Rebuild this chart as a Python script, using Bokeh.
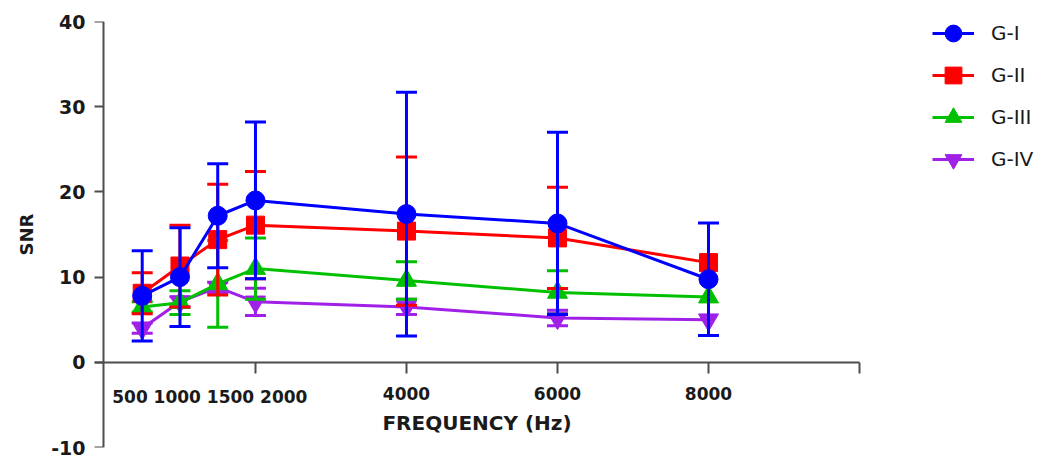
from bokeh.plotting import figure
from bokeh.models import (LinearAxis, FixedTicker, Range1d, Legend, LegendItem, Label)
from bokeh.embed import file_html
from bokeh.resources import INLINE

# ---- data ----
freq = [500, 1000, 1500, 2000, 4000, 6000, 8000]
tick_labels = ["500", "1000", "1500", "2000", "4000", "6000", "8000"]
y_ticks = [-10, 0, 10, 20, 30, 40]
y_tick_labels = ["-10", "0", "10", "20", "30", "40"]

groups = ["G-I", "G-II", "G-III", "G-IV"]
g1_mean = [7.8, 10.0, 17.2, 19.0, 17.4, 16.3, 9.75]
g1_sd = [5.3, 5.8, 6.1, 9.2, 14.3, 10.7, 6.6]
g2_mean = [8.1, 11.3, 14.4, 16.1, 15.4, 14.6, 11.7]
g2_sd = [2.4, 4.8, 6.5, 6.3, 8.7, 5.95, 0.0]
g3_mean = [6.5, 7.0, 9.2, 11.0, 9.6, 8.2, 7.65]
g3_sd = [0.6, 1.4, 5.1, 3.6, 2.2, 2.55, 0.0]
g4_mean = [4.0, 7.1, 8.8, 7.1, 6.5, 5.2, 5.0]
g4_sd = [0.6, 0.6, 0.6, 1.6, 0.9, 0.9, 0.0]

means = [g1_mean, g2_mean, g3_mean, g4_mean]
sds = [g1_sd, g2_sd, g3_sd, g4_sd]
colors = ["#0000FF", "#FF0000", "#00C000", "#A020E8"]
markers = ["circle", "square", "triangle", "inverted_triangle"]
msizes = [19, 18, 20, 20]

FONT = "DejaVu Sans"
TXT = "#1a1a1a"
AX = "#4d4d4d"
X0, X1 = -132, 12609
Y_AXIS_AT = -13

p = figure(width=1062, height=459, output_backend="svg", toolbar_location=None,
           x_range=Range1d(X0, X1), y_range=Range1d(-10, 40),
           x_axis_type=None, y_axis_type=None,
           min_border_left=94, min_border_right=6, min_border_top=21, min_border_bottom=12)
p.outline_line_color = None
p.background_fill_color = "white"
p.border_fill_color = "white"

# y axis, part 1: tick labels and title (in the left panel)
ylab = LinearAxis(ticker=FixedTicker(ticks=y_ticks), axis_label="SNR")
ylab.major_label_overrides = {t: lab for t, lab in zip(y_ticks, y_tick_labels)}
ylab.axis_line_color = None
ylab.major_tick_line_color = None
ylab.major_tick_out = 0
ylab.major_tick_in = 0
ylab.minor_tick_line_color = None
ylab.major_label_standoff = 9
ylab.major_label_text_font = FONT
ylab.major_label_text_font_style = "bold"
ylab.major_label_text_font_size = "19px"
ylab.major_label_text_color = TXT
ylab.axis_label_text_font = FONT
ylab.axis_label_text_font_style = "bold"
ylab.axis_label_text_font_size = "18px"
ylab.axis_label_text_color = TXT
ylab.axis_label_standoff = 11
p.add_layout(ylab, "left")

# y axis, part 2: line and ticks, just right of where the x axis starts
yline = LinearAxis(ticker=FixedTicker(ticks=y_ticks), fixed_location=Y_AXIS_AT)
yline.axis_line_color = AX
yline.axis_line_width = 2
yline.major_tick_line_color = AX
yline.major_tick_line_width = 2
yline.major_tick_out = 13
yline.major_tick_in = 0
yline.minor_tick_line_color = None
yline.major_label_text_alpha = 0
p.add_layout(yline, "left")

# x axis fixed at y = 0
x_major = [2000, 4000, 6000, 8000, 10000]
overrides = {2000: "", 10000: ""}
for f, lab in zip(freq[4:], tick_labels[4:]):
    overrides[f] = lab
xax = LinearAxis(ticker=FixedTicker(ticks=x_major), fixed_location=0,
                 bounds=(X0, 10000), axis_label="FREQUENCY (Hz)")
xax.major_label_overrides = overrides
xax.axis_line_color = AX
xax.axis_line_width = 2
xax.major_tick_line_color = AX
xax.major_tick_line_width = 2
xax.major_tick_out = 11
xax.major_tick_in = 0
xax.minor_tick_line_color = None
xax.major_label_standoff = 14
xax.major_label_text_font = FONT
xax.major_label_text_font_style = "bold"
xax.major_label_text_font_size = "17px"
xax.major_label_text_color = TXT
xax.axis_label_text_font = FONT
xax.axis_label_text_font_style = "bold"
xax.axis_label_text_font_size = "20px"
xax.axis_label_text_color = TXT
xax.axis_label_standoff = 7
p.add_layout(xax, "below")

# crowded low-frequency tick labels, written as one string like the original
crowd = Label(x=freq[0], y=0, x_units="data", y_units="data",
              text=" ".join(tick_labels[:4]), x_offset=-30, y_offset=-25,
              text_align="left", text_baseline="top",
              text_font=FONT, text_font_style="bold",
              text_font_size="17px", text_color=TXT)
p.add_layout(crowd)

items = {}
# draw G-IV first so G-I ends up on top
for i in [3, 2, 1, 0]:
    m, s, c = means[i], sds[i], colors[i]
    xs = [f for f, e in zip(freq, s) if e > 0]
    lo = [v - e for v, e in zip(m, s) if e > 0]
    hi = [v + e for v, e in zip(m, s) if e > 0]
    p.segment(x0=xs, y0=lo, x1=xs, y1=hi, line_color=c, line_width=3)
    p.scatter(x=xs, y=lo, marker="dash", size=21, line_color=c, line_width=3)
    p.scatter(x=xs, y=hi, marker="dash", size=21, line_color=c, line_width=3)
    lr = p.line(x=freq, y=m, line_color=c, line_width=3)
    sr = p.scatter(x=freq, y=m, marker=markers[i], size=msizes[i],
                   fill_color=c, line_color=c, line_width=1)
    items[i] = LegendItem(label=groups[i], renderers=[lr, sr])

legend = Legend(items=[items[0], items[1], items[2], items[3]],
                location=(838, 267), padding=0, margin=0, spacing=-3,
                glyph_width=42, glyph_height=42, label_standoff=17,
                label_text_font=FONT, label_text_font_size="20px",
                label_text_color=TXT, border_line_color=None,
                background_fill_alpha=0)
p.add_layout(legend)

open("out.html", "w").write(file_html(p, INLINE))
